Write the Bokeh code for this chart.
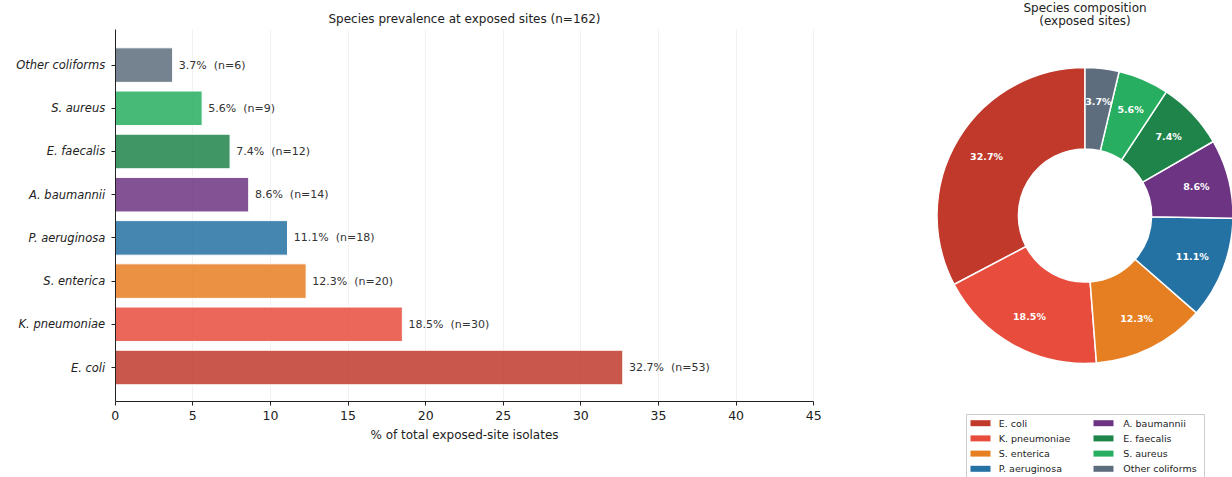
import math
from bokeh.plotting import figure
from bokeh.models import Range1d, FixedTicker, ColumnDataSource
from bokeh.core.properties import value
from bokeh.embed import file_html
from bokeh.resources import INLINE

# ---- data ----
species = ["E. coli", "K. pneumoniae", "S. enterica", "P. aeruginosa",
           "A. baumannii", "E. faecalis", "S. aureus", "Other coliforms"]
counts = [53, 30, 20, 18, 14, 12, 9, 6]
pct = [32.7, 18.5, 12.3, 11.1, 8.6, 7.4, 5.6, 3.7]
colors = ["#c0392b", "#e74c3c", "#e67e22", "#2471a3",
          "#6c3483", "#1e8449", "#27ae60", "#5d6d7e"]
x_ticks = [0, 5, 10, 15, 20, 25, 30, 35, 40, 45]
total_n = 162
bar_title = "Species prevalence at exposed sites (n=162)"
x_label = "% of total exposed-site isolates"
pie_title = ["Species composition", "(exposed sites)"]

FONT = value("DejaVu Sans")
W, H = 1232, 477

# One canvas; the frame covers the whole window. The bar chart's axes are
# pinned with fixed_location / bounds so they sit where the reference has them.
X0, X1 = 0, 45
YB, YT = -0.78, 7.82
p = figure(width=W, height=H, x_range=Range1d(-7.39, 71.98), y_range=Range1d(-2.546, 8.495),
           output_backend="svg", toolbar_location=None,
           min_border_left=0, min_border_right=0, min_border_top=0, min_border_bottom=0)
p.title.visible = False
p.outline_line_color = None
p.extra_x_ranges = {"px": Range1d(0, W)}
p.extra_y_ranges = {"px": Range1d(0, H)}

# ---- bar chart ----
idx = list(range(len(species)))
src = ColumnDataSource(dict(
    y=idx, right=pct, color=colors,
    lx=[v + 0.4 for v in pct],
    label=[f"{v:.1f}%\u00a0 (n={c})" for v, c in zip(pct, counts)],
))
p.hbar(y="y", left=0, right="right", height=0.8, source=src,
       fill_color="color", fill_alpha=0.85, line_color="white", line_width=1)
p.text(x="lx", y="y", text="label", source=src, text_font=FONT,
       text_font_size="11px", text_color="#333333",
       text_align="left", text_baseline="middle")
p.text(x=[(X0 + X1) / 2], y=[8.072], text=[bar_title], text_font=FONT,
       text_font_size="12px", text_color="#222222",
       text_align="center", text_baseline="middle")

xa = p.xaxis[0]
ya = p.yaxis[0]
xa.fixed_location = YB
xa.bounds = (X0, X1)
ya.fixed_location = X0
ya.bounds = (YB, YT)
xa.ticker = FixedTicker(ticks=x_ticks)
ya.ticker = FixedTicker(ticks=idx)
ya.major_label_overrides = {i: s for i, s in enumerate(species)}
ya.major_label_text_font_style = "italic"
ya.major_label_text_font_size = "11.5px"
xa.major_label_text_font_size = "12.5px"
for ax in (xa, ya):
    ax.major_label_text_font = "DejaVu Sans"
    ax.major_label_text_color = "#222222"
    ax.minor_tick_line_color = None
    ax.major_tick_in = 0
    ax.major_tick_out = 4
    ax.major_label_standoff = 6
    ax.axis_line_color = "#222222"
    ax.major_tick_line_color = "#222222"
xa.axis_label = x_label
xa.axis_label_text_font = "DejaVu Sans"
xa.axis_label_text_font_size = "12px"
xa.axis_label_text_font_style = "normal"
xa.axis_label_text_color = "#222222"
xa.axis_label_standoff = 4

p.xgrid.grid_line_color = "#ededed"
p.xgrid.grid_line_width = 0.8
p.xgrid.bounds = (X0, X1)
p.xgrid.cross_bounds = (YB, YT)
p.ygrid.visible = False

# ---- donut chart (pixel-like extra ranges, y measured up from the bottom) ----
cx, cy = 1084.5, H - 215.0
r_out, r_in, r_lab = 148.0, 66.6, 115.0
starts, ends, mids = [], [], []
cum = 0
for c in counts:
    a0 = math.pi / 2 + 2 * math.pi * cum / total_n
    a1 = math.pi / 2 + 2 * math.pi * (cum + c) / total_n
    starts.append(a0)
    ends.append(a1)
    mids.append((a0 + a1) / 2)
    cum += c

wsrc = ColumnDataSource(dict(
    x=[cx] * len(counts), y=[cy] * len(counts),
    start=starts, end=ends, color=colors,
    lx=[cx + r_lab * math.cos(m) for m in mids],
    ly=[cy + r_lab * math.sin(m) for m in mids],
    label=[f"{v:.1f}%" for v in pct],
))
p.annular_wedge(x="x", y="y", inner_radius=r_in, outer_radius=r_out,
                start_angle="start", end_angle="end", source=wsrc,
                fill_color="color", line_color="white", line_width=1.5,
                x_range_name="px", y_range_name="px")
p.text(x="lx", y="ly", text="label", source=wsrc, text_font=FONT,
       text_font_size="9.5px", text_font_style="bold", text_color="white",
       text_align="center", text_baseline="middle",
       x_range_name="px", y_range_name="px")
p.text(x=[cx, cx], y=[H - 7.5, H - 20.5], text=pie_title, text_font=FONT,
       text_font_size="12px", text_color="#222222",
       text_align="center", text_baseline="middle",
       x_range_name="px", y_range_name="px")

# legend (two columns of four)
p.quad(left=[966], right=[1204], bottom=[-3], top=[H - 414], fill_color="white",
       line_color="#cccccc", line_width=1, x_range_name="px", y_range_name="px")
patch_x = [980, 1103]
text_x = [998.3, 1122.7]
lsrc = ColumnDataSource(dict(
    px=[patch_x[i // 4] for i in idx],
    tx=[text_x[i // 4] for i in idx],
    y=[H - (422.7 + 15.2 * (i % 4)) for i in idx],
    color=colors, label=species,
))
p.rect(x="px", y="y", width=20, height=6, source=lsrc, fill_color="color", line_color=None,
       x_range_name="px", y_range_name="px")
p.text(x="tx", y="y", text="label", source=lsrc, text_font=FONT,
       text_font_size="9.5px", text_color="#222222",
       text_align="left", text_baseline="middle",
       x_range_name="px", y_range_name="px")

open("out.html", "w").write(file_html(p, INLINE))
